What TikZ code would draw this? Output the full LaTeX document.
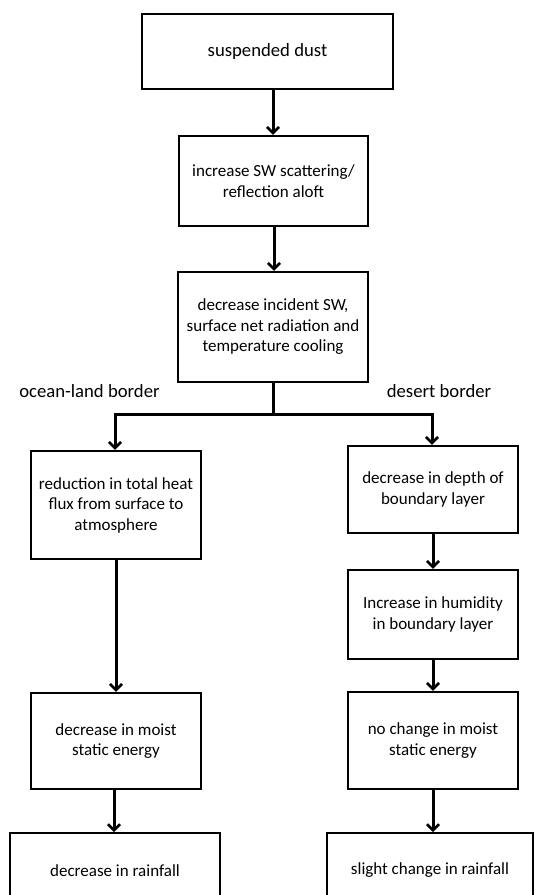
\documentclass[tikz,border=0pt]{standalone}
\usepackage{fontspec}
\setmainfont{Carlito}
\usetikzlibrary{arrows.meta}
\begin{document}
\begin{tikzpicture}[x=1pt,y=-1pt,
  box/.style={draw,line width=2.4pt,align=center,inner sep=0pt,
    font=\fontsize{17}{20.5}\selectfont},
  lbl/.style={font=\fontsize{18.7}{21}\selectfont,inner sep=0pt},
  conn/.style={line width=3pt,-{Straight Barb[length=6pt,width=12pt,line width=2.6pt]}},
  plain/.style={line width=3pt}]
\clip (0,0) rectangle (535,895);
\fill[white] (0,0) rectangle (535,895);
% top chain
\node[box,minimum width=251pt,minimum height=75pt,font=\fontsize{18.7}{21}\selectfont] (a) at (267.5,51.5) {suspended dust};
\node[box,minimum width=189pt,minimum height=90pt] (b) at (273.5,181) {increase SW scattering/\\reflection aloft};
\node[box,minimum width=190pt,minimum height=110pt] (c) at (273,327) {decrease incident SW,\\surface net radiation and\\temperature cooling};
% labels
\node[lbl] (ol) at (89.5,391) {ocean-land border};
\node[lbl] (dl) at (439,391) {desert border};
% left column
\node[box,minimum width=170pt,minimum height=108pt] (l1) at (116,505) {reduction in total heat\\flux from surface to\\atmosphere};
\node[box,minimum width=170pt,minimum height=96pt] (l2) at (116,741) {decrease in moist\\static energy};
\node[box,minimum width=210pt,minimum height=74pt,anchor=north] (l3) at (115,832) {decrease in rainfall};
% right column
\node[box,minimum width=170pt,minimum height=87pt] (r1) at (433,489.5) {decrease in depth of\\boundary layer};
\node[box,minimum width=170pt,minimum height=89pt] (r2) at (433,614.5) {Increase in humidity\\in boundary layer};
\node[box,minimum width=170pt,minimum height=97pt] (r3) at (433,740.5) {no change in moist\\static energy};
\node[box,minimum width=206pt,minimum height=74pt,anchor=north] (r4) at (430,832) {slight change in rainfall};
% connectors
\coordinate (j) at (273,414);
\coordinate (jl) at (115,414);
\coordinate (jr) at (432,414);
\draw[conn] (a.south -| 273,0) -- (b.north -| 273,0);
\draw[conn] (b.south -| 274,0) -- (c.north -| 274,0);
\draw[plain] (c.south -| j) -- (j);
\draw[line width=3pt,line cap=rect] (jl) -- (jr);
\draw[conn] (jl) -- (l1.north -| jl);
\draw[conn] (jr) -- (r1.north -| jr);
\draw[conn] (l1.south) -- (l2.north);
\draw[conn] (l2.south -| 114,0) -- (l3.north -| 114,0);
\draw[conn] (r1.south) -- (r2.north);
\draw[conn] (r2.south) -- (r3.north);
\draw[conn] (r3.south) -- (r3.south |- r4.north);
\end{tikzpicture}
\end{document}
